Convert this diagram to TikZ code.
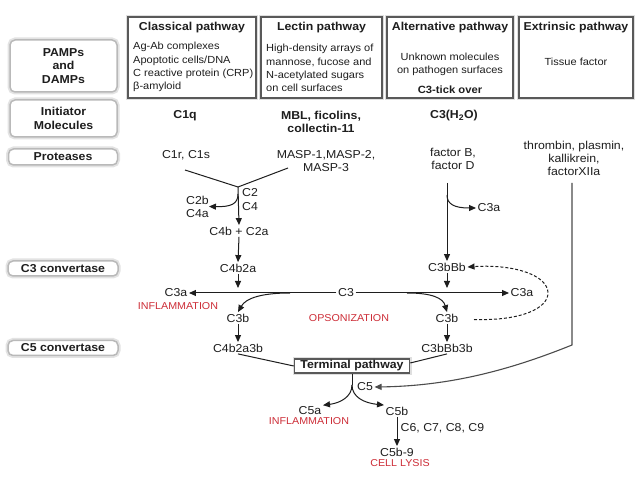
\documentclass[tikz,border=0pt]{standalone}
\usepackage{fontspec}
\setmainfont{Liberation Sans}[FakeStretch=1.07]
\usetikzlibrary{arrows.meta}
\definecolor{lred}{RGB}{205,45,55}
\definecolor{ink}{RGB}{30,30,30}
\begin{document}
\begin{tikzpicture}[x=1pt,y=-1pt,
  every node/.style={font=\fontsize{11.5}{13}\selectfont, text=ink, inner sep=1.5pt},
  bl/.style={font=\bfseries\fontsize{11.5}{13}\selectfont, align=center},
  txt/.style={font=\fontsize{10.3}{13.3}\selectfont},
  redlab/.style={text=lred, font=\fontsize{10}{12}\selectfont},
  side/.style={draw=gray!55, line width=1.5pt, rounded corners=5pt, fill=white,
    preaction={draw=gray!22, line width=5pt}, font=\bfseries\fontsize{11.5}{13.5}\selectfont,
    align=center, inner sep=0pt},
  pbox/.style={draw=black!65, line width=1.5pt, preaction={draw=gray!25, line width=4pt},
    fill=white, inner sep=0pt},
  conn/.style={draw=ink, line width=1pt},
  arr/.style={conn, -{Triangle[length=7pt,width=6pt]}},
  dasharr/.style={arr, dash pattern=on 3pt off 2pt}
]
\useasboundingbox[fill=white] (0,0) rectangle (638,478);

% left side boxes
\node[side, minimum width=107pt, minimum height=52pt] (pamps) at (63.5,66) {PAMPs\\and\\DAMPs};
\node[side, minimum width=107pt, minimum height=37pt] (init) at (63.5,118.5) {Initiator\\Molecules};
\node[side, minimum width=109pt, minimum height=16pt] (prot) at (63,157) {Proteases};
\node[side, minimum width=110pt, minimum height=15pt] (c3conv) at (63,268.5) {C3 convertase};
\node[side, minimum width=110pt, minimum height=15pt] (c5conv) at (63,348) {C5 convertase};

% pathway boxes
\node[pbox, minimum width=128pt, minimum height=81pt] (classical) at (192,57.5) {};
\node[bl] (classicalT) at (192,28) {Classical pathway};
\node[txt, align=left, anchor=west, inner sep=0pt] (classicalX) at (133,67)
  {Ag-Ab complexes\\Apoptotic cells/DNA\\C reactive protein (CRP)\\β-amyloid};

\node[pbox, minimum width=121pt, minimum height=81pt] (lectin) at (321.5,57.5) {};
\node[bl] (lectinT) at (321.5,28) {Lectin pathway};
\node[txt, align=left, anchor=west, inner sep=0pt] (lectinX) at (266,68)
  {High-density arrays of\\mannose, fucose and\\N-acetylated sugars\\on cell surfaces};

\node[pbox, minimum width=126pt, minimum height=81pt] (alt) at (450,57.5) {};
\node[bl] (altT) at (450,28) {Alternative pathway};
\node[txt, align=center] (altX) at (450,64.5) {Unknown molecules\\on pathogen surfaces};
\node[bl, font=\bfseries\fontsize{10.5}{13}\selectfont] (tick) at (450,90) {C3-tick over};

\node[pbox, minimum width=114pt, minimum height=81pt] (ext) at (576,57.5) {};
\node[bl] (extT) at (576,28) {Extrinsic pathway};
\node[txt] (extX) at (576,62) {Tissue factor};

% initiators
\node[bl] (c1q) at (185,116) {C1q};
\node[bl] (mbl) at (321,121.5) {MBL, ficolins,\\collectin-11};
\node[bl] (c3h2o) at (454,116) {C3(H\textsubscript{2}O)};

% proteases
\node (c1r) at (186,155) {C1r, C1s};
\node[align=center] (masp) at (326,161) {MASP-1,MASP-2,\\MASP-3};
\node[align=center] (fbd) at (453,158.5) {factor B,\\factor D};
\node[align=center] (thr) at (574,158) {thrombin, plasmin,\\kallikrein,\\factorXIIa};

% classical / lectin cascade
\coordinate (cl1) at (185,170);
\coordinate (ml1) at (288,168);
\coordinate (apex) at (238,187);
\coordinate (br1) at (238,194);
\node[anchor=west, inner sep=0pt] (c2) at (242,193) {C2};
\node[anchor=west, inner sep=0pt] (c4) at (242,207) {C4};
\node[anchor=west, inner sep=0pt, align=left] (c2b) at (186,206.5) {C2b\\C4a};
\node (c4bc2a) at (239,231) {C4b + C2a};
\node (c4b2a) at (238,268) {C4b2a};

\draw[conn] (cl1) -- (apex) -- (ml1);
\draw[arr] (apex) -- (c4bc2a.north);
\draw[arr] (br1) .. controls (238,204) and (231,207) .. (c2b.east);
\draw[arr] (c4bc2a.south) -- (c4b2a.north);

% C3 row
\node (c3) at (346,293) {C3};
\node (c3aL) at (176,293) {C3a};
\node (c3aR) at (522,293) {C3a};
\node[redlab] (inflL) at (178,306) {INFLAMMATION};
\node[redlab] (opson) at (349,318) {OPSONIZATION};
\coordinate (c3lineL) at (238,288);
\coordinate (c3lineR) at (447,288);
\coordinate (cvL) at (290,293);
\coordinate (cvR) at (407,293);
\draw[arr] (c4b2a.south) -- (c3lineL);
\draw[arr] (c3.west) -- (c3aL.east);
\draw[arr] (c3.east) -- (c3aR.west);

\node (c3bL) at (238,318) {C3b};
\node (c3bR) at (447,318) {C3b};
\draw[arr] (cvL) .. controls (262,293) and (246,298) .. (c3bL.north);
\draw[arr] (cvR) .. controls (432,293) and (443,298) .. (c3bR.north);

\node (c4b2a3b) at (238,348) {C4b2a3b};
\node (c3bbb3b) at (447,348) {C3bBb3b};
\draw[arr] (c3bL.south) -- (c4b2a3b.north);
\draw[arr] (c3bR.south) -- (c3bbb3b.north);

% alternative cascade
\node (c3bbb) at (447,267) {C3bBb};
\coordinate (al1) at (447,183);
\coordinate (br2) at (447,195);
\node (c3aA) at (489,208) {C3a};
\draw[arr] (al1) -- (c3bbb.north);
\draw[arr] (br2) .. controls (447,204) and (454,208) .. (c3aA.west);
\draw[arr] (c3bbb.south) -- (c3lineR);
\coordinate (d1) at (474,319.5);
\draw[dasharr] (d1) .. controls (522,321) and (548,308) .. (548,293)
  .. controls (548,276) and (516,264) .. (c3bbb.east);

% terminal pathway
\node[pbox, font=\bfseries\fontsize{11.5}{13}\selectfont, minimum width=115pt, minimum height=14pt] (term) at (352,366) {Terminal pathway};
\draw[conn] (c4b2a3b.south) -- (term.west);
\draw[conn] (c3bbb3b.south) -- ([yshift=3pt]term.east);

\coordinate (br3) at (352,385);
\node (c5) at (365,387) {C5};
\node (c5a) at (310,411) {C5a};
\node[redlab] (inflC5) at (309,421.5) {INFLAMMATION};
\node (c5b) at (397,411) {C5b};
\draw[conn] (term.south) -- (br3);
\draw[arr] (br3) .. controls (352,397) and (340,403) .. (c5a.north east);
\draw[arr] (br3) .. controls (352,397) and (364,403) .. (c5b.north west);

\node (c5b9) at (397,452) {C5b-9};
\node[redlab] (lysis) at (400,463.5) {CELL LYSIS};
\node[anchor=west] (c6) at (399,428) {C6, C7, C8, C9};
\draw[arr] (c5b.south) -- (c5b9.north);

% extrinsic line
\coordinate (ex1) at (572,183);
\coordinate (ex2) at (572,345);
\draw[arr, draw=black!70, line width=1.1pt] (ex1) -- (ex2) .. controls (510,370) and (450,386) .. (c5.east);
\end{tikzpicture}
\end{document}
